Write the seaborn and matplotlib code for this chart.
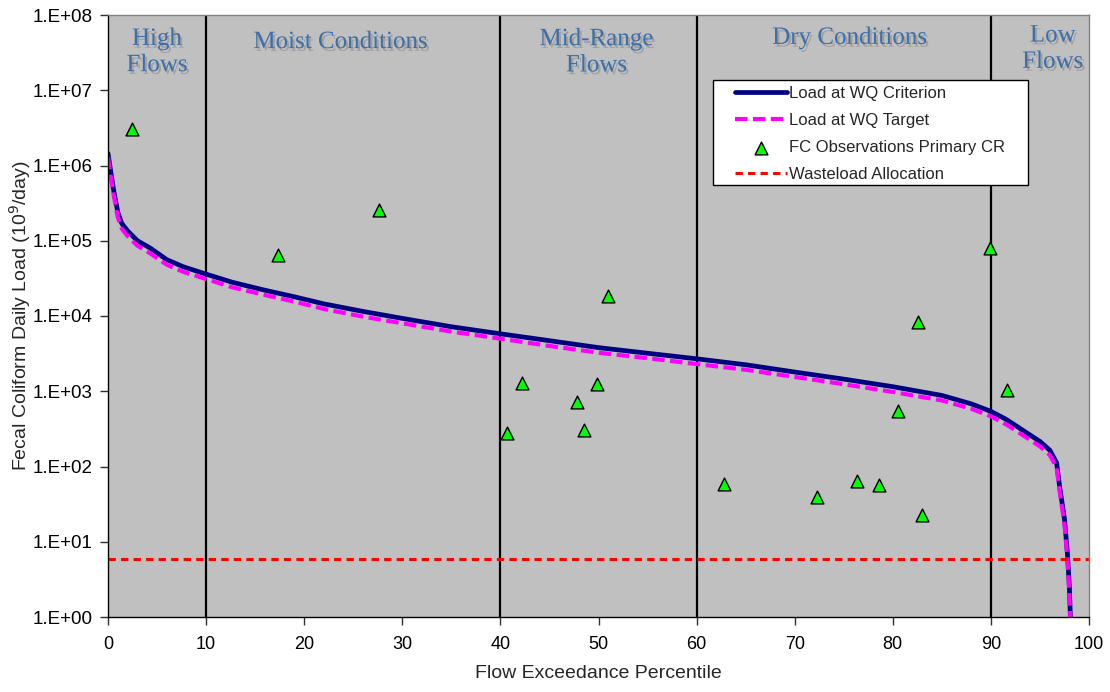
import numpy as np
import pandas as pd
import matplotlib
matplotlib.use("Agg")
import matplotlib.pyplot as plt
import matplotlib.patheffects as pe
from matplotlib.patches import Rectangle
from matplotlib.ticker import FixedLocator, FuncFormatter
import seaborn as sns

# ---- data ----
curve_x = [0, 0.3, 0.6, 1.0, 1.4, 2.0, 3.0, 4.3, 6.0, 7.7, 10, 12.7, 16, 19, 22, 26, 30, 35,
           40, 45, 50, 55, 60, 65, 70, 75, 80, 85, 88, 90, 91.6, 93.3, 95, 96, 96.7, 97, 97.5,
           97.8, 98.0, 98.1]
criterion_y = [1.45e6, 8e5, 4.5e5, 2.4e5, 1.7e5, 1.35e5, 1.0e5, 8.0e4, 5.6e4, 4.5e4, 3.6e4,
               2.8e4, 2.2e4, 1.8e4, 1.45e4, 1.15e4, 9.3e3, 7.2e3, 5.8e3, 4.7e3, 3.8e3, 3.2e3,
               2.7e3, 2.25e3, 1.8e3, 1.45e3, 1.15e3, 880, 680, 540, 420, 300, 215, 165, 112,
               55, 20, 7, 2.5, 1.0]
target_y = [1.3e6, 6.9e5, 3.9e5, 2.05e5, 1.45e5, 1.15e5, 8.6e4, 6.8e4, 4.8e4, 3.85e4, 3.1e4,
            2.4e4, 1.9e4, 1.55e4, 1.24e4, 9.8e3, 8.0e3, 6.2e3, 5.0e3, 4.0e3, 3.25e3, 2.75e3,
            2.3e3, 1.93e3, 1.55e3, 1.24e3, 980, 755, 585, 465, 360, 258, 185, 142, 96,
            47, 17.2, 6.0, 2.1, 0.86]
obs_x = [2.4, 17.3, 27.6, 40.7, 42.2, 47.8, 48.5, 49.8, 51.0, 62.8, 72.3, 76.4, 78.6,
         80.5, 82.6, 83.0, 89.9, 91.6]
obs_y = [3.05e6, 6.5e4, 2.6e5, 280, 1290, 720, 305, 1250, 1.85e4, 58, 39, 64, 57,
         547, 8300, 22.6, 8.0e4, 1040]
wla_x = [0, 100]
wla_y = [5.9, 5.9]
zone_bounds = [10, 40, 60, 90]
zone_labels = ["High\nFlows", "Moist Conditions", "Mid-Range\nFlows", "Dry Conditions", "Low\nFlows"]
zone_centers = [5, 23.7, 49.8, 75.6, 96.3]
ytick_vals = [1e0, 1e1, 1e2, 1e3, 1e4, 1e5, 1e6, 1e7, 1e8]
xtick_vals = list(range(0, 101, 10))

# ---- style ----
sns.set_style("ticks")
plt.rcParams["font.family"] = ["Liberation Sans", "DejaVu Sans"]

fig = plt.figure(figsize=(11.1, 6.92), dpi=100)
ax = fig.add_axes([108 / 1110, 1 - 617 / 692, (1089 - 108) / 1110, (617 - 15) / 692])
ax.set_facecolor("#C0C0C0")

for b in zone_bounds:
    sns.lineplot(x=[b, b], y=[1, 1e8], ax=ax, color="black", lw=1.6, estimator=None,
                 sort=False, legend=False)

sns.lineplot(x=curve_x, y=criterion_y, ax=ax, color="#000080", lw=3.4, sort=False,
             estimator=None, label="Load at WQ Criterion")
sns.lineplot(x=curve_x, y=target_y, ax=ax, color="#FF00FF", lw=3.0, sort=False,
             estimator=None, linestyle=(0, (3, 1.3)), label="Load at WQ Target")
sns.scatterplot(x=obs_x, y=obs_y, ax=ax, marker="^", s=85, color="#00FF00",
                edgecolor="black", linewidth=1.0, label="FC Observations Primary CR", zorder=5)
sns.lineplot(x=wla_x, y=wla_y, ax=ax, color="#FF0000", lw=2.2, linestyle=(0, (2.4, 1.7)),
             estimator=None, sort=False, label="Wasteload Allocation")

ax.set_yscale("log")
ax.set_xlim(0, 100)
ax.set_ylim(1, 1e8)
ax.yaxis.set_major_locator(FixedLocator(ytick_vals))
ax.yaxis.set_minor_locator(FixedLocator([]))
ax.yaxis.set_major_formatter(FuncFormatter(lambda v, p: "1.E+%02d" % int(round(np.log10(v)))))
ax.xaxis.set_major_locator(FixedLocator(xtick_vals))
ax.tick_params(axis="both", direction="out", length=6, width=1, labelsize=13,
               colors="#303030", labelcolor="black")
ax.tick_params(axis="y", pad=5, labelsize=13.5)
ax.tick_params(axis="x", pad=8)

for s in ["left", "bottom"]:
    ax.spines[s].set_color("black")
    ax.spines[s].set_linewidth(1.0)
for s in ["top", "right"]:
    ax.spines[s].set_color("#808080")
    ax.spines[s].set_linewidth(1.0)

ax.set_xlabel("Flow Exceedance Percentile", fontsize=14, labelpad=8)
ax.set_ylabel("Fecal Coliform Daily Load (10$^9$/day)", fontsize=14, labelpad=0)

# zone labels
label_y = [0.9385, 0.955, 0.938, 0.962, 0.944]
for cx, lab, ly in zip(zone_centers, zone_labels, label_y):
    ax.text(cx, ly, lab, transform=ax.get_xaxis_transform(), ha="center", va="center",
            fontsize=18, family="Liberation Serif", color="#3C6EA8", linespacing=1.25,
            path_effects=[pe.withSimplePatchShadow(offset=(1.5, -2), shadow_rgbFace="#8C8C8C",
                                                   alpha=0.6)])

# legend box (white panel with black border) and legend entries
ax.add_patch(Rectangle((0.6167, 0.7176), 0.3211, 0.1744, transform=ax.transAxes,
                       facecolor="white", edgecolor="black", lw=1.0, zorder=6))
leg = ax.legend(loc="upper left", bbox_to_anchor=(0.639, 0.882), frameon=False,
                fontsize=12, handlelength=3.1, borderpad=0, labelspacing=0.72,
                handletextpad=0.15, borderaxespad=0)
leg.set_zorder(7)

fig.savefig("out.png", dpi=100)
